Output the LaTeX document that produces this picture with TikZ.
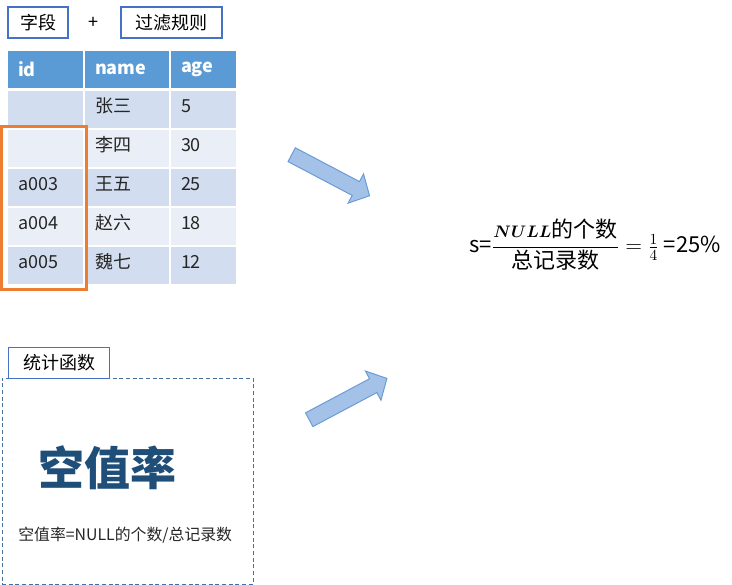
\RequirePackage{fix-cm}
\documentclass[tikz,border=0pt]{standalone}
\usepackage{amsmath}
\usepackage{fontspec}
\setmainfont{Noto Sans CJK SC}
\definecolor{hdr}{HTML}{5B9BD5}
\definecolor{rowA}{HTML}{D2DEEF}
\definecolor{rowB}{HTML}{EAEFF7}
\definecolor{boxblue}{HTML}{4472C4}
\definecolor{hlorange}{HTML}{ED7D31}
\definecolor{arrowfill}{HTML}{A4C2E8}
\definecolor{arrowline}{HTML}{6A9BD8}
\definecolor{dashblue}{HTML}{41719C}
\definecolor{bigblue}{HTML}{1F4E79}
\definecolor{txt}{HTML}{262626}
\begin{document}
\begin{tikzpicture}[x=0.75pt,y=-0.75pt,
  labelbox/.style={draw=boxblue, line width=0.9pt, fill=white, minimum height=23.25pt, inner sep=0pt, font=\fontsize{13.5}{16}\selectfont, text=black},
  cell/.style={anchor=north west, minimum height=27.75pt, inner xsep=7.5pt, inner ysep=0pt, outer sep=0pt, align=left, font=\fontsize{13.5}{16}\selectfont, text=txt},
  colA/.style={cell, text width=41.25pt},
  colB/.style={cell, text width=48pt},
  colC/.style={cell, text width=33.75pt},
  datacell/.style={text height=10pt, text depth=6pt},
  hdrcell/.style={fill=hdr, text=white, font=\bfseries\fontsize{13.5}{16}\selectfont},
  blockarrow/.style={fill=arrowfill, draw=arrowline, line width=0.75pt, line join=miter},
  panel/.style={draw=dashblue, line width=0.75pt, dash pattern=on 3pt off 2pt, anchor=north west, inner sep=0pt, outer sep=0pt}
]
\useasboundingbox (0,0) rectangle (732,585);

% top labels
\node[labelbox, minimum width=45pt] (field) at (38,22.5) {字段};
\node[font=\fontsize{13.5}{16}\selectfont] (plus) at (93,23) {+};
\node[labelbox, minimum width=75.75pt] (rule) at (171.5,22.5) {过滤规则};

% table header
\node[colA, hdrcell] (h1) at (8,51) {id};
\node[colB, hdrcell] (h2) at (85,51) {name};
\node[colC, hdrcell] (h3) at (171,51) {age};
% rows
\node[colA, datacell, fill=rowA] (r1a) at (8,91) {};
\node[colB, datacell, fill=rowA] (r1b) at (85,91) {张三};
\node[colC, datacell, fill=rowA] (r1c) at (171,91) {5};
\node[colA, datacell, fill=rowB] (r2a) at (8,130) {};
\node[colB, datacell, fill=rowB] (r2b) at (85,130) {李四};
\node[colC, datacell, fill=rowB] (r2c) at (171,130) {30};
\node[colA, datacell, fill=rowA] (r3a) at (8,169) {a003};
\node[colB, datacell, fill=rowA] (r3b) at (85,169) {王五};
\node[colC, datacell, fill=rowA] (r3c) at (171,169) {25};
\node[colA, datacell, fill=rowB] (r4a) at (8,208) {a004};
\node[colB, datacell, fill=rowB] (r4b) at (85,208) {赵六};
\node[colC, datacell, fill=rowB] (r4c) at (171,208) {18};
\node[colA, datacell, fill=rowA] (r5a) at (8,247) {a005};
\node[colB, datacell, fill=rowA] (r5b) at (85,247) {魏七};
\node[colC, datacell, fill=rowA] (r5c) at (171,247) {12};

% orange highlight
\draw[draw=hlorange, line width=2.25pt] (1.5,126.5) rectangle (86.2,289.5);

% block arrows
\begin{scope}[shift={(291.7,154.7)}, rotate=-27.8]
  \filldraw[blockarrow] (0,-7.8) -- (72.5,-7.8) -- (72.5,-16.5) -- (88,0) -- (72.5,16.5) -- (72.5,7.8) -- (0,7.8) -- cycle;
\end{scope}
\begin{scope}[shift={(309.2,419.7)}, rotate=28]
  \filldraw[blockarrow] (0,-7.8) -- (72.5,-7.8) -- (72.5,-16.5) -- (88,0) -- (72.5,16.5) -- (72.5,7.8) -- (0,7.8) -- cycle;
\end{scope}

% formula
\node[anchor=west, inner sep=0pt, font=\fontsize{16.5}{20}\selectfont] (formula) at (469,245)
  {s=$\dfrac{\text{\fontsize{12.5}{14}\selectfont\boldmath$NULL$}\text{的个数}}{\text{总记录数}}=\frac{1}{4}$ =25\%};

% bottom panel
\node[panel, minimum width=188.25pt, minimum height=154.5pt] (panelbox) at (2,378) {};
\node[labelbox, minimum width=75.75pt, anchor=north west] (func) at (8,347) {统计函数};
\node[font=\bfseries\fontsize{34.5}{40}\selectfont, text=bigblue] (big) at (107,468) {空值率};
\node[anchor=west, inner sep=0pt, font=\fontsize{11.9}{14}\selectfont, text=txt] (def) at (18,535) {空值率=NULL的个数/总记录数};
\end{tikzpicture}
\end{document}
